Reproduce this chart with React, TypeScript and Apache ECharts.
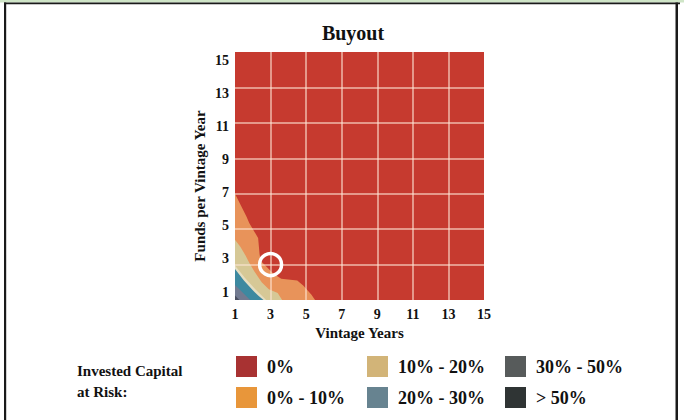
import React, { useEffect, useRef } from "react";
import * as echarts from "echarts";

// ---- data ----
const xTicks = [1, 3, 5, 7, 9, 11, 13, 15];
const yTicks = [1, 3, 5, 7, 9, 11, 13, 15];
const plotCorners: number[][] = [[1, 1], [1, 15], [15, 15], [15, 1]];

// contour boundaries (each runs from left edge down to bottom edge), data units
const bRedOrange: number[][] = [[1, 7.0], [1.65, 5.7], [1.8, 5.35], [2.3, 4.5], [2.38, 3.6], [2.45, 3.2], [3.15, 2.5], [3.6, 2.2], [4.5, 2.1], [4.85, 1.8], [5.3, 1.3], [5.5, 1.0]];
const bOrangeTan: number[][] = [[1, 4.4], [1.3, 4.0], [1.6, 3.5], [1.8, 3.1], [2.1, 2.6], [2.5, 2.0], [2.9, 1.6], [3.4, 1.4], [3.65, 1.0]];
const bTanCream: number[][] = [[1, 2.95], [1.55, 2.25], [2.05, 1.7], [2.4, 1.35], [2.75, 1.0]];
const bCreamBlue: number[][] = [[1, 2.75], [1.5, 2.1], [2.0, 1.55], [2.3, 1.25], [2.6, 1.0]];
const bBlueGray: number[][] = [[1, 1.85], [1.4, 1.45], [1.85, 1.0]];
const bGrayDark: number[][] = [[1, 1.25], [1.25, 1.0]];

const bandColors = ["#c63a2f", "#e8935a", "#d6c896", "#e6dec2", "#3d89a0", "#727a90", "#4a4f60"];

const marker: number[][] = [[3, 3]];

const legendLabels = ["0%", "0% - 10%", "10% - 20%", "20% - 30%", "30% - 50%", "> 50%"];
const legendColors = ["#a83232", "#e8963a", "#d2b478", "#678390", "#575b5b", "#2f3434"];

const serif = "'Liberation Serif', 'Times New Roman', serif";

export default function App() {
  const ref = useRef<HTMLDivElement>(null);
  useEffect(() => {
    if (!ref.current) return;
    const chart = echarts.init(ref.current, null, { renderer: "svg" });

    const boundaries = [bRedOrange, bOrangeTan, bTanCream, bCreamBlue, bBlueGray, bGrayDark];
    const bandPolys: number[][][] = [plotCorners, ...boundaries.map((b) => [...b, [1, 1]])];

    const legendCols = [236, 367, 505];
    const legendRows = [356, 387];
    const legendGraphics: any[] = [];
    legendLabels.forEach((lab, i) => {
      const col = Math.floor(i / 2);
      const row = i % 2;
      const x = legendCols[col];
      const y = legendRows[row];
      legendGraphics.push({
        type: "rect",
        shape: { x, y, width: 21, height: 21 },
        style: { fill: legendColors[i] },
      });
      legendGraphics.push({
        type: "text",
        x: x + 31,
        y: y + 11,
        style: {
          text: lab,
          font: `bold 18px ${serif}`,
          fill: "#111",
          textAlign: "left",
          textVerticalAlign: "middle",
        },
      });
    });

    const option: any = {
      animation: false,
      backgroundColor: "#fff",
      grid: [
        { left: 235, top: 52, width: 249, height: 248, containLabel: false },
        { left: 235, top: 60, width: 249, height: 232, containLabel: false },
      ],
      xAxis: [
        {
          type: "value",
          gridIndex: 0,
          min: 1,
          max: 15,
          interval: 2,
          z: 10,
          axisLine: { show: false },
          axisTick: { show: false },
          axisLabel: {
            margin: 7,
            color: "#111",
            fontFamily: serif,
            fontWeight: "bold",
            fontSize: 14,
            formatter: (v: number) => (xTicks.includes(v) ? String(v) : ""),
          },
          splitLine: {
            show: true,
            showMinLine: false,
            showMaxLine: false,
            lineStyle: { color: "rgba(255,232,215,0.55)", width: 2 },
          },
          name: "Vintage Years",
          nameLocation: "middle",
          nameGap: 23,
          nameTextStyle: { color: "#111", fontFamily: serif, fontWeight: "bold", fontSize: 15 },
        },
        {
          type: "value",
          gridIndex: 1,
          min: 1,
          max: 15,
          show: false,
        },
      ],
      yAxis: [
        {
          type: "value",
          gridIndex: 0,
          min: 1,
          max: 15,
          interval: 2,
          z: 10,
          axisLine: { show: false },
          axisTick: { show: false },
          axisLabel: { show: false },
          splitLine: {
            show: true,
            showMinLine: false,
            showMaxLine: false,
            lineStyle: { color: "rgba(255,232,215,0.55)", width: 2 },
          },
        },
        {
          type: "value",
          gridIndex: 1,
          min: 1,
          max: 15,
          interval: 2,
          axisLine: { show: false },
          axisTick: { show: false },
          splitLine: { show: false },
          axisLabel: {
            margin: 6,
            color: "#111",
            fontFamily: serif,
            fontWeight: "bold",
            fontSize: 14,
            formatter: (v: number) => (yTicks.includes(v) ? String(v) : ""),
          },
        },
      ],
      series: [
        {
          type: "custom",
          xAxisIndex: 0,
          yAxisIndex: 0,
          clip: true,
          data: bandPolys.map((_, i) => [i]),
          renderItem: (params: any, api: any) => {
            const poly = bandPolys[params.dataIndex];
            const pts = poly.map((p) => api.coord(p));
            return {
              type: "polygon",
              shape: { points: pts },
              style: { fill: bandColors[params.dataIndex], stroke: "none" },
              silent: true,
            };
          },
          z: 2,
        },
        {
          type: "scatter",
          xAxisIndex: 0,
          yAxisIndex: 0,
          data: marker,
          symbol: "circle",
          symbolSize: 22,
          itemStyle: { color: "rgba(0,0,0,0)", borderColor: "#ffffff", borderWidth: 3.5, opacity: 1 },
          emphasis: { disabled: true },
          z: 20,
          silent: true,
        },
      ],
      graphic: [
        { type: "rect", shape: { x: 0, y: 0, width: 684, height: 2.5 }, style: { fill: "#cfe5c7" } },
        { type: "rect", shape: { x: 4, y: 2.5, width: 676, height: 1.8 }, style: { fill: "#1a1a1a" } },
        { type: "rect", shape: { x: 4, y: 2.5, width: 2.2, height: 418 }, style: { fill: "#1a1a1a" } },
        { type: "rect", shape: { x: 675.5, y: 2.5, width: 2.5, height: 418 }, style: { fill: "#1a1a1a" } },
        {
          type: "text",
          x: 353,
          y: 33,
          style: {
            text: "Buyout",
            font: `bold 20px ${serif}`,
            fill: "#111",
            textAlign: "center",
            textVerticalAlign: "middle",
          },
        },
        {
          type: "text",
          x: 200,
          y: 186,
          rotation: Math.PI / 2,
          style: {
            text: "Funds per Vintage Year",
            font: `bold 15px ${serif}`,
            fill: "#111",
            textAlign: "center",
            textVerticalAlign: "middle",
          },
        },
        {
          type: "text",
          x: 77,
          y: 371,
          style: { text: "Invested Capital", font: `bold 15px ${serif}`, fill: "#111", textAlign: "left", textVerticalAlign: "middle" },
        },
        {
          type: "text",
          x: 77,
          y: 392,
          style: { text: "at Risk:", font: `bold 15px ${serif}`, fill: "#111", textAlign: "left", textVerticalAlign: "middle" },
        },
        ...legendGraphics,
      ],
    };
    chart.setOption(option);
    return () => chart.dispose();
  }, []);
  return (
    <div
      ref={ref}
      style={{ position: "fixed", left: 0, top: 0, width: 684, height: 420 }}
    />
  );
}
